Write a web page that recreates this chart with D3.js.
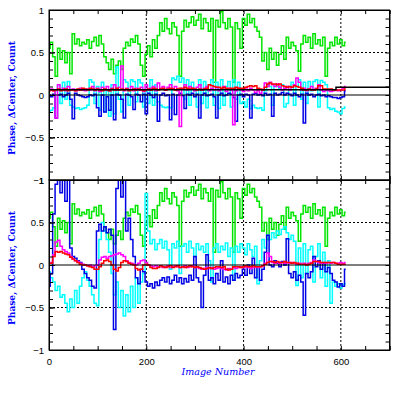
<!DOCTYPE html>
<html><head><meta charset="utf-8">
<script src="https://cdn.jsdelivr.net/npm/d3@7"></script>
<style>body{margin:0;background:#fff}svg{display:block}</style>
</head><body><svg id="c" width="399" height="399"></svg>
<script>
// ---- data (image numbers 0..610 step 5) ----
const imageNumbers = d3.range(0, 611, 5);
const xTickLabels = [0, 200, 400, 600];
const yTickLabels = [1, 0.5, 0, -0.5, -1];
const yLabelText = "Phase, \u0394Center, Count";
const xLabelText = "Image Number";

const green = [
0.55,0.62,0.45,0.22,0.55,0.42,0.52,0.38,0.50,0.25,
0.72,0.60,0.66,0.58,0.62,0.60,0.65,0.55,0.63,0.68,
0.58,0.70,0.60,0.45,0.38,0.30,0.42,0.25,0.35,0.40,
0.30,0.55,0.62,0.58,0.66,0.62,0.70,0.60,0.35,0.22,
0.48,0.58,0.45,0.65,0.55,0.70,0.85,0.75,0.90,0.78,
0.72,0.85,0.80,0.70,0.22,0.75,0.88,0.80,0.85,0.92,
0.82,0.88,0.95,0.78,0.90,0.85,0.75,0.90,0.15,0.88,
0.80,0.98,0.85,0.78,0.90,0.80,0.15,0.85,0.78,0.55,
0.90,0.82,0.95,0.85,0.90,0.80,0.75,0.68,0.40,0.50,
0.30,0.55,0.42,0.50,0.35,0.48,0.58,0.42,0.68,0.55,
0.62,0.58,0.52,0.28,0.60,0.70,0.62,0.68,0.55,0.72,
0.60,0.65,0.58,0.68,0.22,0.55,0.62,0.58,0.68,0.60,
0.65,0.58,0.62];

const cyanTop = [
-0.20,-0.18,-0.15,0.05,0.12,-0.10,0.15,-0.05,0.16,-0.12,
-0.14,-0.16,-0.15,-0.17,-0.16,-0.15,-0.12,0.18,0.15,-0.10,
0.10,-0.18,0.15,-0.20,0.05,-0.25,0.12,-0.22,0.33,-0.05,
-0.20,0.18,0.15,-0.12,0.18,0.16,-0.08,0.18,0.14,-0.14,
0.05,-0.10,0.18,-0.12,0.12,-0.08,-0.12,-0.14,-0.15,-0.14,
-0.15,0.20,0.18,0.22,0.15,0.20,-0.05,0.18,-0.12,0.15,
0.05,-0.14,0.18,-0.10,0.16,-0.15,0.12,0.18,-0.12,0.15,
-0.16,0.18,-0.12,0.10,0.16,-0.14,0.18,-0.05,0.15,-0.10,
-0.08,-0.14,-0.05,-0.16,-0.12,-0.15,-0.16,-0.15,-0.18,0.05,
0.12,0.10,-0.12,0.12,0.10,0.08,0.12,-0.14,-0.10,0.10,
0.15,-0.12,0.10,0.18,-0.05,0.15,-0.10,0.16,0.05,0.16,
0.18,-0.14,0.17,0.15,0.12,-0.15,-0.17,-0.16,-0.19,-0.20,
-0.22,-0.16,-0.14];

const blueTop = [
0.00,-0.02,0.01,-0.27,0.00,0.01,-0.02,0.00,0.02,-0.05,
-0.28,0.02,0.00,-0.01,-0.02,-0.03,-0.02,0.00,-0.01,0.01,
-0.15,-0.25,0.00,-0.20,-0.02,-0.18,0.00,-0.29,0.01,0.00,
-0.05,-0.27,0.01,0.00,-0.02,-0.17,0.01,0.00,-0.08,0.01,
-0.22,0.02,0.00,-0.03,0.01,-0.31,0.00,0.02,-0.01,0.00,
-0.29,0.01,-0.23,0.00,0.02,-0.01,-0.16,0.01,0.00,0.02,
-0.02,0.01,-0.27,0.00,0.02,-0.01,0.00,0.01,-0.02,-0.27,
0.00,0.02,-0.01,0.00,0.02,0.01,-0.03,-0.31,0.00,0.01,
-0.02,0.01,0.00,-0.27,0.01,0.02,0.00,0.01,-0.01,0.02,
0.00,0.01,-0.25,0.02,0.00,0.01,0.03,0.00,0.02,0.01,
-0.01,0.02,0.00,-0.02,0.01,-0.33,0.02,0.00,0.01,-0.02,
0.00,0.01,-0.01,0.00,-0.02,-0.01,-0.02,-0.03,-0.03,-0.04,
-0.03,-0.02,0.05];

const magentaTop = [
0.06,0.07,0.05,-0.27,0.12,0.06,0.08,0.05,0.10,0.06,
0.07,0.05,0.06,0.08,0.06,0.05,0.07,0.06,0.10,0.05,
0.08,0.04,0.09,0.06,0.10,0.05,0.08,0.12,0.06,0.09,
0.34,0.05,0.08,0.06,0.10,0.05,0.08,0.06,0.09,0.04,
0.12,0.06,0.08,0.10,0.05,0.14,0.08,0.10,0.06,0.09,
0.12,0.07,0.10,0.05,-0.37,0.08,0.12,0.06,0.10,0.08,
0.05,0.09,0.12,0.06,0.08,0.10,0.05,0.08,0.06,0.09,
0.05,0.07,0.10,0.04,0.08,0.06,-0.35,0.05,0.08,0.06,
0.04,0.07,0.05,0.08,0.06,0.03,0.05,0.02,0.06,0.14,
0.10,0.15,0.12,0.10,0.13,0.09,0.06,0.08,0.10,0.06,
0.09,0.12,0.20,0.15,0.06,0.08,0.05,0.07,0.10,0.06,
0.08,0.12,0.06,0.04,0.06,0.05,0.04,0.05,0.06,0.05,
0.06,0.08,0.10];

const redTop = [
0.05,0.06,0.05,0.06,0.07,0.05,0.06,0.07,0.05,0.06,
0.06,0.05,0.07,0.06,0.08,0.07,0.06,0.08,0.07,0.06,
0.07,0.06,0.05,0.07,0.06,0.05,0.07,0.06,0.08,0.06,
0.07,0.06,0.07,0.05,0.06,0.07,0.06,0.07,0.06,0.05,
0.06,0.07,0.06,0.08,0.07,0.06,0.07,0.08,0.06,0.07,
0.08,0.07,0.06,0.07,0.08,0.07,0.09,0.08,0.07,0.08,
0.07,0.06,0.07,0.06,0.07,0.08,0.12,0.11,0.10,0.09,
0.09,0.08,0.09,0.08,0.07,0.08,0.08,0.09,0.08,0.08,
0.08,0.09,0.10,0.11,0.10,0.11,0.08,0.07,0.06,0.09,
0.13,0.14,0.13,0.13,0.12,0.13,0.11,0.10,0.09,0.10,
0.09,0.11,0.10,0.09,0.08,0.06,0.06,0.07,0.06,0.06,
0.07,0.11,0.11,0.07,0.07,0.07,0.07,0.06,0.06,0.06,
0.06,0.06,0.07];

const refLineX = [0, 590, 590, 700];
const refLineTop = [0.062, 0.062, 0.09, 0.09];

const cyanBottom = [
-0.08,-0.15,-0.20,-0.30,-0.25,-0.38,-0.35,-0.45,-0.55,-0.40,
-0.50,-0.30,-0.45,-0.25,-0.15,-0.08,-0.18,-0.25,-0.35,-0.45,
-0.48,0.30,0.50,0.40,0.30,0.15,-0.10,-0.35,-0.20,-0.50,
-0.30,-0.60,-0.35,-0.55,-0.25,-0.50,-0.15,-0.45,-0.20,-0.10,
0.84,0.40,0.25,0.30,0.18,0.25,0.30,0.20,0.28,0.18,
-0.05,0.25,0.20,0.28,-0.10,0.22,0.25,0.15,0.28,0.20,
0.10,0.25,0.18,0.22,0.15,0.25,0.05,-0.20,0.20,0.25,
0.15,0.22,0.18,0.26,0.10,0.20,-0.18,0.22,0.15,0.25,
0.20,0.12,0.25,0.18,0.10,0.22,-0.22,0.05,0.30,0.20,
0.35,0.30,0.38,0.32,0.40,0.36,0.42,0.45,0.38,0.30,
0.35,0.28,-0.24,0.20,-0.15,0.25,-0.10,0.18,0.22,-0.20,
0.10,0.25,-0.15,0.15,-0.25,0.05,-0.45,-0.20,-0.25,-0.22,
-0.27,-0.23,-0.22];

const blueBottom = [
-0.25,-0.10,0.60,0.95,1.00,0.85,1.00,0.75,1.00,0.20,
0.10,0.08,0.05,0.03,-0.05,-0.10,-0.15,-0.18,-0.25,-0.27,
0.40,0.48,0.40,0.45,0.38,0.42,0.35,-0.76,0.90,1.00,
0.80,1.00,0.40,0.55,0.30,0.10,-0.15,-0.22,-0.05,-0.08,
-0.20,-0.25,-0.22,-0.27,-0.20,-0.24,-0.18,-0.15,-0.20,-0.14,
-0.22,-0.18,-0.12,-0.20,-0.15,-0.22,-0.16,-0.20,-0.12,-0.18,
0.10,-0.15,-0.20,-0.50,-0.12,0.12,-0.18,-0.15,-0.22,-0.10,
-0.18,0.05,-0.20,-0.14,-0.22,-0.12,-0.18,-0.10,-0.15,-0.12,
-0.05,-0.12,0.00,-0.10,0.08,-0.15,-0.02,-0.18,-0.05,0.15,
0.35,0.00,-0.02,0.05,0.02,-0.02,0.04,0.00,0.31,-0.10,
-0.15,-0.08,-0.18,-0.12,-0.20,-0.59,-0.10,-0.15,-0.08,0.10,
-0.02,0.05,-0.05,0.02,-0.08,-0.03,-0.10,-0.18,-0.20,-0.26,
-0.22,-0.25,-0.05];

const magentaBottom = [
0.02,0.03,0.12,0.27,0.29,0.22,0.18,0.16,0.14,0.10,
0.07,0.05,0.04,0.02,0.01,0.00,-0.01,0.00,-0.02,-0.01,
0.00,0.06,0.09,0.10,0.08,0.10,0.11,0.12,0.13,0.14,
0.12,0.10,0.05,0.03,0.02,0.01,0.00,0.02,0.05,0.06,
0.03,0.00,-0.01,-0.02,-0.01,-0.02,-0.01,-0.03,-0.02,-0.01,
-0.03,-0.02,-0.01,-0.02,-0.03,-0.02,-0.01,-0.03,-0.02,-0.01,
-0.02,-0.03,-0.04,-0.05,-0.04,-0.03,-0.04,-0.03,-0.05,-0.04,
-0.03,-0.04,-0.05,-0.06,-0.04,-0.05,-0.03,-0.04,-0.03,-0.02,
-0.03,-0.02,-0.03,-0.04,-0.03,-0.02,-0.03,-0.02,-0.01,0.02,
0.14,0.10,0.03,0.02,0.03,0.02,0.03,0.02,0.03,0.02,
0.03,0.02,0.01,0.02,0.01,0.02,0.01,0.02,0.03,0.06,
0.04,0.03,0.02,0.03,0.02,0.03,0.02,0.03,0.02,0.02,
0.03,0.02,0.03];

const redBottom = [
0.02,0.02,0.10,0.16,0.15,0.16,0.14,0.13,0.12,0.09,
0.07,0.05,0.03,0.01,0.00,0.00,-0.01,-0.02,-0.03,-0.05,
-0.05,-0.02,0.02,0.05,0.06,0.04,0.00,-0.05,-0.07,-0.03,
0.03,0.05,0.04,0.02,0.01,0.00,-0.04,-0.06,-0.05,0.00,
0.01,0.00,-0.03,-0.04,-0.04,-0.03,-0.01,-0.02,-0.03,-0.02,
-0.01,-0.03,-0.02,-0.01,-0.03,-0.02,-0.03,-0.02,-0.01,-0.02,
-0.03,-0.02,-0.03,-0.04,-0.05,-0.04,-0.03,-0.04,-0.03,-0.02,
-0.02,-0.03,-0.02,-0.05,-0.06,-0.05,-0.02,-0.02,-0.02,-0.03,
-0.02,-0.01,-0.02,-0.02,-0.01,-0.02,-0.02,-0.02,-0.01,0.01,
0.03,0.04,0.04,0.03,0.04,0.03,0.03,0.04,0.03,0.03,
0.02,0.03,0.02,0.01,0.01,0.01,0.00,0.01,0.02,0.04,
0.04,0.04,0.03,0.03,0.03,0.03,0.03,0.03,0.02,0.01,
0.01,0.01,0.01];

// ---- drawing ----
const svg = d3.select("#c");
const x = d3.scaleLinear().domain([0, 700]).range([49, 389.5]);
const panels = [
  {top: 10, bottom: 180, series: [
    {v: green, c: "#00e600"}, {v: cyanTop, c: "#00ffff"}, {v: blueTop, c: "#0000e6"},
    {v: magentaTop, c: "#ff00ff"}, {v: redTop, c: "#ff0000"}], ref: true},
  {top: 180, bottom: 350, series: [
    {v: green, c: "#00e600"}, {v: cyanBottom, c: "#00ffff"}, {v: blueBottom, c: "#0000e6"},
    {v: magentaBottom, c: "#ff00ff"}, {v: redBottom, c: "#ff0000"}], ref: false}
];
const xMinor = d3.range(0, 701, 50);
const yMinor = d3.range(-10, 11).map(d => d / 10);
const fmt = d => d === 0 ? "0" : (d < 0 ? "\u2212" + Math.abs(d) : String(d));

panels.forEach((p, i) => {
  const y = d3.scaleLinear().domain([-1, 1]).range([p.bottom, p.top]);
  const g = svg.append("g");
  const cid = "clip" + i;
  svg.append("clipPath").attr("id", cid).append("rect")
    .attr("x", x(0)).attr("y", p.top).attr("width", x(700) - x(0)).attr("height", p.bottom - p.top);

  // grid
  g.selectAll(".vg").data(xTickLabels.filter(d => d > 0)).join("line")
    .attr("x1", d => x(d)).attr("x2", d => x(d)).attr("y1", p.top).attr("y2", p.bottom)
    .attr("stroke", "#000").attr("stroke-width", 1).attr("stroke-dasharray", "2,2");
  g.selectAll(".hg").data([0.5, -0.5]).join("line")
    .attr("x1", x(0)).attr("x2", x(700)).attr("y1", d => y(d)).attr("y2", d => y(d))
    .attr("stroke", "#000").attr("stroke-width", 1).attr("stroke-dasharray", "2,2");

  // series
  const dg = g.append("g").attr("clip-path", `url(#${cid})`);
  p.series.forEach(s => {
    const line = d3.line().x((d, k) => x(imageNumbers[k])).y(d => y(d)).curve(d3.curveStep);
    dg.append("path").datum(s.v).attr("d", line).attr("fill", "none")
      .attr("stroke", s.c).attr("stroke-width", 1.5);
  });
  // zero line
  g.append("line").attr("x1", x(0)).attr("x2", x(700)).attr("y1", y(0)).attr("y2", y(0))
    .attr("stroke", "#000").attr("stroke-width", 1.2);
  if (p.ref) {
    const rl = d3.line().x((d, k) => x(refLineX[k])).y(d => y(d));
    dg.append("path").datum(refLineTop).attr("d", rl).attr("fill", "none")
      .attr("stroke", "#000").attr("stroke-width", 1.5);
  }

  // axes (ticks inward)
  const left = g.append("g").attr("transform", `translate(${x(0)},0)`);
  left.call(d3.axisLeft(y).tickValues(yMinor).tickSize(-4).tickFormat(""));
  left.append("g").call(d3.axisLeft(y).tickValues(yTickLabels).tickSize(-6).tickPadding(5).tickFormat(fmt));
  const right = g.append("g").attr("transform", `translate(${x(700)},0)`);
  right.call(d3.axisRight(y).tickValues(yMinor).tickSize(-4).tickFormat(""));
  const topAx = g.append("g").attr("transform", `translate(0,${p.top})`);
  topAx.call(d3.axisTop(x).tickValues(xMinor).tickSize(-4).tickFormat(""));
  const botAx = g.append("g").attr("transform", `translate(0,${p.bottom})`);
  botAx.call(d3.axisBottom(x).tickValues(xMinor).tickSize(-4).tickFormat(""));
  if (i === 1) {
    botAx.append("g").call(d3.axisBottom(x).tickValues(xTickLabels).tickSize(0).tickPadding(8).tickFormat(d => String(d)));
  }
  g.selectAll(".domain").attr("stroke", "#000").attr("stroke-width", 1);
  g.selectAll(".tick line").attr("stroke", "#000");
  g.selectAll(".tick text").attr("font-family", "Liberation Sans, Arial, sans-serif")
    .attr("font-size", 9.5).attr("fill", "#000");

  // frame
  g.append("rect").attr("x", x(0)).attr("y", p.top).attr("width", x(700) - x(0)).attr("height", p.bottom - p.top)
    .attr("fill", "none").attr("stroke", "#000").attr("stroke-width", 1);

  // y label (upright bold serif)
  g.append("text").attr("transform", `translate(15,${(p.top + p.bottom) / 2 + 3}) rotate(-90)`)
    .attr("text-anchor", "middle").attr("font-family", "DejaVu Serif, serif")
    .attr("font-weight", "bold").attr("font-size", 10).attr("fill", "#0000ff")
    .attr("textLength", 114).attr("lengthAdjust", "spacingAndGlyphs").text(yLabelText);
});

svg.append("text").attr("x", 218).attr("y", 375).attr("text-anchor", "middle")
  .attr("font-family", "DejaVu Serif, serif").attr("font-style", "italic").attr("font-size", 10)
  .attr("fill", "#0000ff").attr("textLength", 73).attr("lengthAdjust", "spacingAndGlyphs").text(xLabelText);
</script></body></html>
